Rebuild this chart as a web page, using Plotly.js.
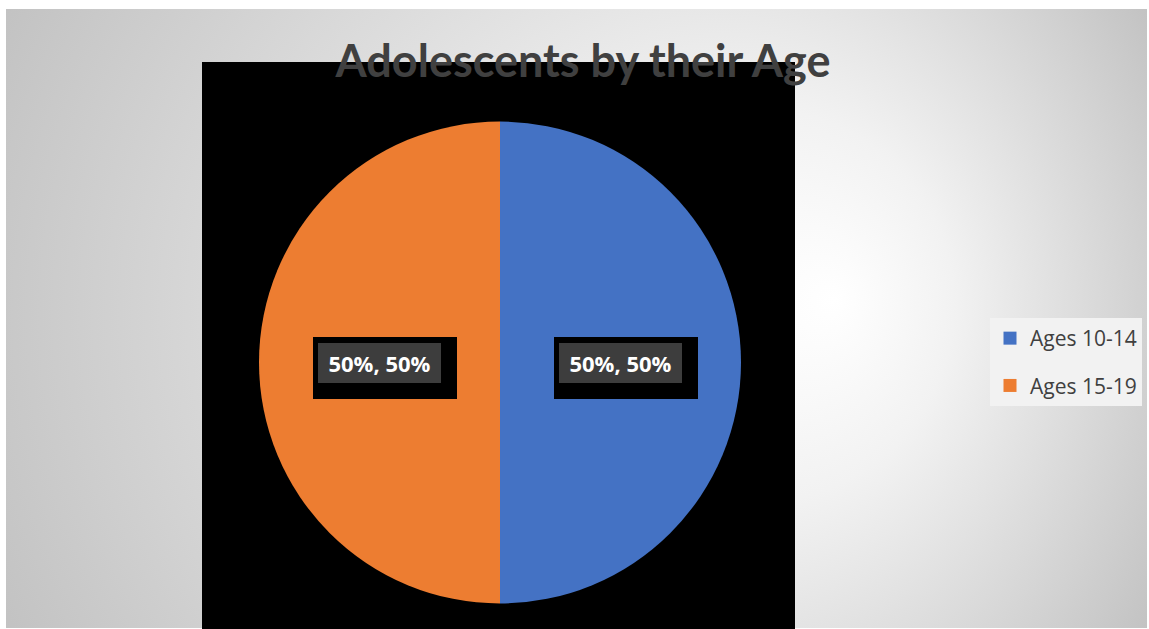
<!DOCTYPE html>
<html>
<head>
<meta charset="utf-8">
<script src="https://cdn.plot.ly/plotly-3.0.1.min.js"></script>
<style>
  html, body { margin: 0; padding: 0; background: #ffffff; }
  #wrap { position: relative; width: 1149px; height: 629px; overflow: hidden; }
  #bg { position: absolute; left: 0; top: 0; }
  #chart { position: absolute; left: 0; top: 0; width: 1149px; height: 629px; }
</style>
</head>
<body>
<div id="wrap">
  <svg id="bg" width="1149" height="629" xmlns="http://www.w3.org/2000/svg">
    <defs>
      <radialGradient id="g" gradientUnits="userSpaceOnUse" cx="576" cy="318" r="655" fx="835" fy="300">
        <stop offset="0" stop-color="#ffffff"/>
        <stop offset="0.3" stop-color="#f2f2f2"/>
        <stop offset="1" stop-color="#c2c2c2"/>
      </radialGradient>
    </defs>
    <rect x="6" y="9" width="1141" height="619" fill="url(#g)"/>
  </svg>
  <div id="chart"></div>
</div>
<script>
// ---- data ----
const categories = ["Ages 10-14", "Ages 15-19"];
const values = [0.5, 0.5];
const colors = ["#4472c4", "#ed7d31"];
const chartTitle = "Adolescents by their Age";

const W = 1149, H = 629;
// pie geometry (pixels)
const pieCx = 500, pieCy = 362.5, pieR = 241;
const domX = [(pieCx - pieR) / W, (pieCx + pieR) / W];
const domY = [1 - (pieCy + pieR) / H, 1 - (pieCy - pieR) / H];

const total = values.reduce((a, b) => a + b, 0);

const traces = [{
  type: "pie",
  labels: categories,
  values: values,
  sort: false,
  direction: "clockwise",
  rotation: 0,
  marker: { colors: colors, line: { width: 0 } },
  textinfo: "none",
  hoverinfo: "label+percent",
  showlegend: false,
  domain: { x: domX, y: domY }
}];

// legend entries driven by the same categories/colours
categories.forEach((c, i) => {
  traces.push({
    type: "scatter", mode: "markers", x: [null], y: [null],
    name: c, legendgroup: "g" + i,
    marker: { symbol: "square", size: 13, color: colors[i] },
    hoverinfo: "skip"
  });
});

// data labels
const annotations = [];
let cum = 0;
values.forEach((v, i) => {
  const th = 2 * Math.PI * (cum + v / 2) / total;
  cum += v;
  const px = pieCx + 0.5 * pieR * Math.sin(th);
  const py = pieCy - 0.5 * pieR * Math.cos(th);
  const txt = Math.round(v * 100) + "%, " + Math.round(v / total * 100) + "%";
  annotations.push({
    xref: "paper", yref: "paper", x: (px + 5) / W, y: 1 - (py + 5) / H,
    xanchor: "center", yanchor: "middle", showarrow: false,
    text: " ", width: 144, height: 62, bgcolor: "#000000", borderpad: 0, borderwidth: 0
  });
  annotations.push({
    xref: "paper", yref: "paper", x: px / W, y: 1 - py / H,
    xanchor: "center", yanchor: "middle", showarrow: false,
    text: "<b>" + txt + "</b>", width: 123, height: 40, bgcolor: "#3d3d3d",
    borderpad: 0, borderwidth: 0,
    font: { family: "Open Sans", size: 22, color: "#ffffff" }
  });
});

const layout = {
  width: W, height: H,
  margin: { l: 0, r: 0, t: 0, b: 0 },
  paper_bgcolor: "rgba(0,0,0,0)",
  plot_bgcolor: "#000000",
  xaxis: { domain: [202 / W, 795 / W], visible: false, range: [0, 1], fixedrange: true },
  yaxis: { domain: [0, 1 - 62 / H], visible: false, range: [0, 1], fixedrange: true },
  title: {
    text: "<b>" + chartTitle + "</b>",
    x: 583 / W, xanchor: "center", xref: "paper",
    y: 1 - 61 / H, yanchor: "middle", yref: "container",
    font: { family: "Lato", size: 45, color: "#404040" }
  },
  showlegend: true,
  legend: {
    x: 990 / W, xanchor: "left", y: 1 - 318 / H, yanchor: "top",
    bgcolor: "#f2f2f2", borderwidth: 0,
    font: { family: "Open Sans", size: 21, color: "#404040" },
    tracegroupgap: 17, itemclick: false, itemdoubleclick: false
  },
  annotations: annotations
};

Plotly.newPlot("chart", traces, layout, { displayModeBar: false, staticPlot: true });
</script>
</body>
</html>
